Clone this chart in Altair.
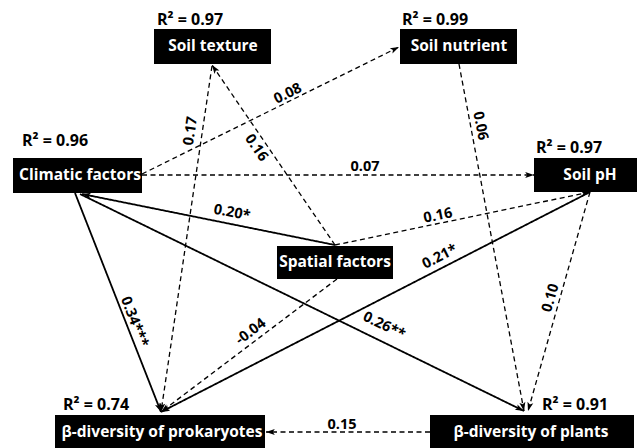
import altair as alt
import numpy as np
import pandas as pd

# ---- model values ----
node_names = ["Soil texture", "Soil nutrient", "Climatic factors", "Soil pH",
              "Spatial factors", "β-diversity of prokaryotes", "β-diversity of plants"]
r2_nodes = ["Soil texture", "Soil nutrient", "Climatic factors", "Soil pH",
            "β-diversity of prokaryotes", "β-diversity of plants"]
r2_values = [0.97, 0.99, 0.96, 0.97, 0.74, 0.91]

edge_from = ["Climatic factors", "Climatic factors", "Spatial factors", "Spatial factors",
             "Soil texture", "Soil nutrient", "Climatic factors", "Climatic factors",
             "Spatial factors", "Spatial factors", "β-diversity of plants", "Soil pH", "Soil pH"]
edge_to = ["Soil nutrient", "Soil pH", "Soil texture", "Soil pH",
           "β-diversity of prokaryotes", "β-diversity of plants", "β-diversity of prokaryotes",
           "β-diversity of plants", "Climatic factors", "β-diversity of prokaryotes",
           "β-diversity of prokaryotes", "β-diversity of prokaryotes", "β-diversity of plants"]
edge_coef = ["0.08", "0.07", "0.16", "0.16", "0.17", "0.06", "0.34***", "0.26**",
             "0.20*", "-0.04", "0.15", "0.21*", "0.10"]
edge_significant = [False, False, False, False, False, False, True, True,
                    True, False, False, True, False]

# ---- diagram layout (pixel space, y downward) ----
box_x0 = [154, 400, 13, 534, 277, 55, 430]
box_x1 = [271, 517, 142, 640, 393, 265, 634]
box_y0 = [29, 29, 158, 158, 246, 415, 415]
box_y1 = [64, 64, 193, 192, 279, 450, 450]
name_x = [213, 459, 80, 590, 335, 162, 531]
name_y = [46, 46, 175, 175, 262, 432, 432]
r2_x = [157, 402, 22, 536, 63, 542]
r2_y = [20, 20, 141, 148, 405, 405]

path_x1 = [142, 142, 335, 335, 212, 459, 75, 80, 335, 337, 430, 590, 590]
path_y1 = [174, 175, 245, 245, 66, 64, 193, 194, 245, 279, 432, 192, 192]
path_x2 = [399, 534, 212, 590, 161, 524, 161, 524, 82, 161, 266, 161, 528]
path_y2 = [47, 175, 65, 192, 412, 411, 412, 411, 194, 412, 432, 412, 411]
coef_x = [288, 365, 256, 438, 191, 480, 134, 384, 232, 251, 342, 440, 551]
coef_y = [94, 167, 148, 216, 131, 126, 322, 326, 213, 332, 425, 257, 298]
coef_angle = [334, 0, 55.5, 348.5, 278.5, 79, 68.8, 26, 11, 323, 0, 333, 286]

FONT = "Open Sans"
W, H = 637, 448

nodes = pd.DataFrame({"name": node_names, "x0": box_x0, "x1": box_x1,
                      "y0": box_y0, "y1": box_y1, "tx": name_x, "ty": name_y})
r2 = pd.DataFrame({"node": r2_nodes, "x": r2_x, "y": r2_y,
                   "label": [f"R\u00b2 = {v:.2f}" for v in r2_values]})
edges = pd.DataFrame({"source": edge_from, "target": edge_to, "coef": edge_coef,
                      "sig": ["significant" if s else "ns" for s in edge_significant],
                      "x1": path_x1, "y1": path_y1, "x2": path_x2, "y2": path_y2,
                      "lx": coef_x, "ly": coef_y, "angle": coef_angle})
# arrowhead orientation follows each path direction
edges["head"] = (np.degrees(np.arctan2(edges.y2 - edges.y1, edges.x2 - edges.x1)) + 90) % 360

xs = alt.Scale(domain=[0, W], nice=False, zero=False)
ys = alt.Scale(domain=[0, H], nice=False, zero=False, reverse=True)

base_e = alt.Chart(edges)
lines = base_e.mark_rule(color="black").encode(
    x=alt.X("x1:Q", scale=xs, axis=None),
    y=alt.Y("y1:Q", scale=ys, axis=None),
    x2="x2:Q", y2="y2:Q",
    strokeDash=alt.StrokeDash("sig:N", scale=alt.Scale(domain=["significant", "ns"],
                                                       range=[[1, 0], [5, 3.5]]), legend=None),
    strokeWidth=alt.StrokeWidth("sig:N", scale=alt.Scale(domain=["significant", "ns"],
                                                         range=[1.8, 1.3]), legend=None),
)
heads = base_e.mark_point(filled=True, color="black", opacity=1,
                          shape="M0,0L-0.75,2.2L0,1.7L0.75,2.2Z", size=64).encode(
    x=alt.X("x2:Q", scale=xs, axis=None),
    y=alt.Y("y2:Q", scale=ys, axis=None),
    angle=alt.Angle("head:Q", scale=None),
)
coefs = base_e.mark_text(font=FONT, fontSize=14.5, fontWeight="bold", color="black",
                         align="center", baseline="middle").encode(
    x=alt.X("lx:Q", scale=xs, axis=None),
    y=alt.Y("ly:Q", scale=ys, axis=None),
    angle=alt.Angle("angle:Q", scale=None),
    text="coef:N",
)

base_n = alt.Chart(nodes)
boxes = base_n.mark_rect(color="black").encode(
    x=alt.X("x0:Q", scale=xs, axis=None), x2="x1:Q",
    y=alt.Y("y0:Q", scale=ys, axis=None), y2="y1:Q",
)
names = base_n.mark_text(font=FONT, fontSize=15.5, fontWeight="bold", color="white",
                         align="center", baseline="middle").encode(
    x=alt.X("tx:Q", scale=xs, axis=None),
    y=alt.Y("ty:Q", scale=ys, axis=None),
    text="name:N",
)
r2_text = alt.Chart(r2).mark_text(font=FONT, fontSize=16, fontWeight="bold", color="black",
                                  align="left", baseline="middle").encode(
    x=alt.X("x:Q", scale=xs, axis=None),
    y=alt.Y("y:Q", scale=ys, axis=None),
    text="label:N",
)

chart = alt.layer(lines, heads, coefs, boxes, names, r2_text).properties(
    width=W, height=H, padding=0, autosize="none", background="white"
).configure_view(stroke=None)

chart.save("out.html", embed_options={"renderer": "svg", "actions": False})
